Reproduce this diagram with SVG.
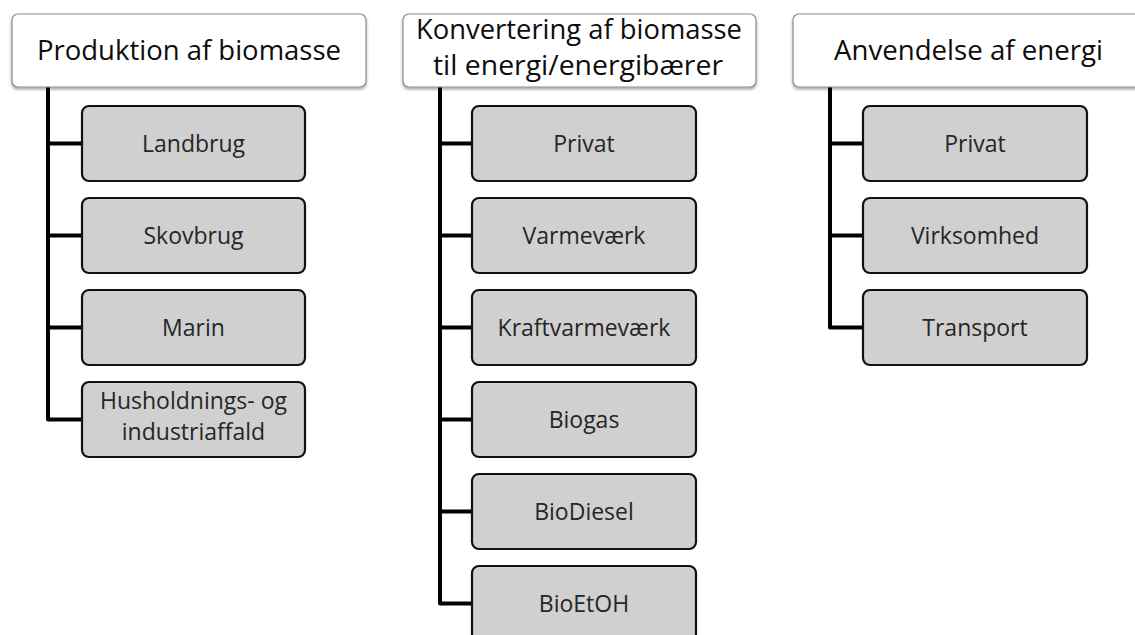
<svg xmlns="http://www.w3.org/2000/svg" width="1135" height="635" viewBox="0 0 1135 635">
<style>
.hdr{fill:#fff;stroke:#8c8c8c;stroke-width:1.2;filter:url(#sh)}
.hdrt{font-family:"Open Sans","Noto Sans",sans-serif;font-size:28px;fill:#0d0d0d;text-anchor:middle}
.box{fill:#d0d0d0;stroke:#111;stroke-width:2.2}
.bt{font-family:"Open Sans","Noto Sans",sans-serif;font-size:23px;fill:#262626;text-anchor:middle}
.cn{fill:none;stroke:#000;stroke-width:4;stroke-linejoin:round;stroke-linecap:butt}
</style>
<defs>
<filter id="sh" x="-5%" y="-10%" width="110%" height="130%">
<feDropShadow dx="0" dy="2" stdDeviation="1.5" flood-color="#000" flood-opacity="0.35"/>
</filter>
</defs>
<rect width="1135" height="635" fill="#fff"/>
<g id="connectors">
<path class="cn" d="M48 87 V419.5 H82"/>
<path class="cn" d="M48 143.5 H82 M48 235.5 H82 M48 327.5 H82"/>
<path class="cn" d="M440 87 V603.5 H472"/>
<path class="cn" d="M440 143.5 H472 M440 235.5 H472 M440 327.5 H472 M440 419.5 H472 M440 511.5 H472"/>
<path class="cn" d="M830 87 V327.5 H863"/>
<path class="cn" d="M830 143.5 H863 M830 235.5 H863"/>
</g>
<g id="h1"><rect class="hdr" x="12" y="14" width="354" height="73" rx="6"/><text class="hdrt" x="189" y="60" textLength="304" lengthAdjust="spacingAndGlyphs">Produktion af biomasse</text></g>
<g id="h2"><rect class="hdr" x="403" y="14" width="353" height="73" rx="6"/><text class="hdrt" x="579" y="39" textLength="326" lengthAdjust="spacingAndGlyphs">Konvertering af biomasse</text><text class="hdrt" x="578" y="75" textLength="290" lengthAdjust="spacingAndGlyphs">til energi/energibærer</text></g>
<g id="h3"><rect class="hdr" x="793" y="14" width="356" height="73" rx="6"/><text class="hdrt" x="968.5" y="60" textLength="269" lengthAdjust="spacingAndGlyphs">Anvendelse af energi</text></g>
<g id="c1a"><rect class="box" x="82" y="106" width="223" height="75" rx="7"/><text class="bt" x="193.5" y="152">Landbrug</text></g>
<g id="c1b"><rect class="box" x="82" y="198" width="223" height="75" rx="7"/><text class="bt" x="193.5" y="244">Skovbrug</text></g>
<g id="c1c"><rect class="box" x="82" y="290" width="223" height="75" rx="7"/><text class="bt" x="193.5" y="336">Marin</text></g>
<g id="c1d"><rect class="box" x="82" y="382" width="223" height="75" rx="7"/><text class="bt" x="193.5" y="409">Husholdnings- og</text><text class="bt" x="193.5" y="440">industriaffald</text></g>
<g id="c2a"><rect class="box" x="472" y="106" width="224" height="75" rx="7"/><text class="bt" x="584" y="152">Privat</text></g>
<g id="c2b"><rect class="box" x="472" y="198" width="224" height="75" rx="7"/><text class="bt" x="584" y="244">Varmeværk</text></g>
<g id="c2c"><rect class="box" x="472" y="290" width="224" height="75" rx="7"/><text class="bt" x="584" y="336">Kraftvarmeværk</text></g>
<g id="c2d"><rect class="box" x="472" y="382" width="224" height="75" rx="7"/><text class="bt" x="584" y="428">Biogas</text></g>
<g id="c2e"><rect class="box" x="472" y="474" width="224" height="75" rx="7"/><text class="bt" x="584" y="520">BioDiesel</text></g>
<g id="c2f"><rect class="box" x="472" y="566" width="224" height="75" rx="7"/><text class="bt" x="584" y="612">BioEtOH</text></g>
<g id="c3a"><rect class="box" x="863" y="106" width="224" height="75" rx="7"/><text class="bt" x="975" y="152">Privat</text></g>
<g id="c3b"><rect class="box" x="863" y="198" width="224" height="75" rx="7"/><text class="bt" x="975" y="244">Virksomhed</text></g>
<g id="c3c"><rect class="box" x="863" y="290" width="224" height="75" rx="7"/><text class="bt" x="975" y="336">Transport</text></g>
</svg>
